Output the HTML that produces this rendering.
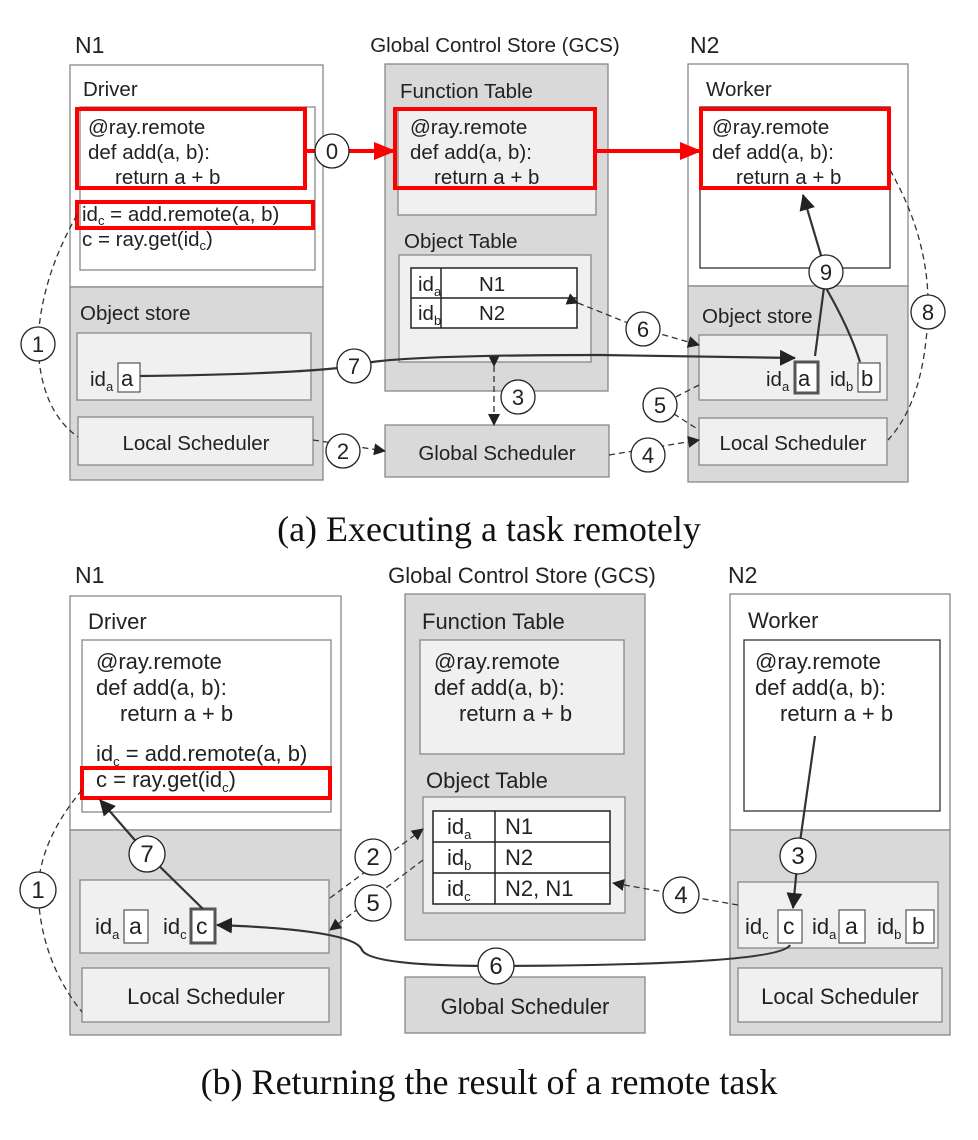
<!DOCTYPE html>
<html><head><meta charset="utf-8"><style>
html,body{margin:0;padding:0;background:#fff}
svg{display:block}
text{font-family:"Liberation Sans",sans-serif;fill:#222}
.c{font-size:20.5px}
.t{font-size:20.5px}
.n{font-size:20.5px;text-anchor:middle}
.b .c,.b .t{font-size:22px}
.b .n{font-size:22px}
.cap{font-family:"Liberation Serif",serif;font-size:36px;text-anchor:middle;fill:#111}
.sub{font-size:13px}
.num{font-size:22px;text-anchor:middle}
</style></head><body>
<svg width="978" height="1140" viewBox="0 0 978 1140" xmlns="http://www.w3.org/2000/svg">
<defs>
<marker id="ah" markerWidth="12" markerHeight="12" refX="11" refY="6" orient="auto" markerUnits="userSpaceOnUse"><path d="M0,0 L12,6 L0,12z" fill="#222"/></marker>
<marker id="ahb" markerWidth="16" markerHeight="16" refX="15" refY="8" orient="auto" markerUnits="userSpaceOnUse"><path d="M0,0 L16,8 L0,16z" fill="#222"/></marker>
<marker id="ahr" markerWidth="22" markerHeight="22" refX="20" refY="11" orient="auto" markerUnits="userSpaceOnUse"><path d="M0,2 L22,11 L0,20z" fill="#f00"/></marker>
</defs>
<g stroke="#888" stroke-width="1.3">
<rect x="70" y="65" width="253" height="222" fill="#fff"/>
<rect x="70" y="287" width="253" height="193" fill="#d9d9d9"/>
<rect x="80" y="107" width="235" height="163" fill="#fff"/>
<rect x="77" y="333" width="234" height="67" fill="#f0f0f0"/>
<rect x="78" y="417" width="235" height="48" fill="#f0f0f0"/>
<rect x="385" y="64" width="223" height="327" fill="#d9d9d9"/>
<rect x="398" y="108" width="198" height="107" fill="#f0f0f0"/>
<rect x="399" y="255" width="192" height="107" fill="#f0f0f0"/>
<rect x="385" y="425" width="224" height="52" fill="#d9d9d9"/>
<rect x="688" y="64" width="220" height="222" fill="#fff"/>
<rect x="688" y="286" width="220" height="196" fill="#d9d9d9"/>
<rect x="700" y="107" width="190" height="161" fill="#fff" stroke="#333"/>
<rect x="699" y="335" width="188" height="65" fill="#f0f0f0"/>
<rect x="699" y="418" width="188" height="47" fill="#f0f0f0"/>
<rect x="70" y="596" width="271" height="234" fill="#fff"/>
<rect x="70" y="830" width="271" height="205" fill="#d9d9d9"/>
<rect x="82" y="640" width="249" height="172" fill="#fff"/>
<rect x="80" y="880" width="249" height="73" fill="#f0f0f0"/>
<rect x="82" y="968" width="247" height="54" fill="#f0f0f0"/>
<rect x="405" y="594" width="240" height="346" fill="#d9d9d9"/>
<rect x="420" y="640" width="204" height="114" fill="#f0f0f0"/>
<rect x="423" y="797" width="202" height="116" fill="#f0f0f0"/>
<rect x="405" y="977" width="240" height="56" fill="#d9d9d9"/>
<rect x="730" y="594" width="220" height="236" fill="#fff"/>
<rect x="730" y="830" width="220" height="205" fill="#d9d9d9"/>
<rect x="744" y="640" width="196" height="171" fill="#fff" stroke="#333"/>
<rect x="738" y="882" width="200" height="66" fill="#f0f0f0"/>
<rect x="738" y="968" width="204" height="54" fill="#f0f0f0"/>
</g>
<g stroke="#222" stroke-width="1.5" fill="#fff">
<rect x="411" y="268" width="166" height="60"/>
<line x1="441" y1="268" x2="441" y2="328"/><line x1="411" y1="298" x2="577" y2="298"/>
<rect x="433" y="811" width="177" height="93"/>
<line x1="495" y1="811" x2="495" y2="904"/><line x1="433" y1="842" x2="610" y2="842"/><line x1="433" y1="873" x2="610" y2="873"/>
</g>
<g fill="#fff" stroke="#555" stroke-width="1.2">
<rect x="118" y="363" width="22" height="29"/>
<rect x="858" y="363" width="22" height="29"/>
<rect x="124" y="910" width="24" height="33"/>
<rect x="778" y="910" width="24" height="33"/>
<rect x="839" y="910" width="26" height="33"/>
<rect x="906" y="910" width="28" height="33"/>
</g>
<rect x="795" y="362" width="23" height="31" fill="#fff" stroke="#555" stroke-width="3"/>
<rect x="191" y="909" width="24" height="34" fill="#fff" stroke="#555" stroke-width="3"/>

<g>
<text x="75" y="53" style="font-size:23px">N1</text>
<text x="495" y="52" class="n">Global Control Store (GCS)</text>
<text x="690" y="53" style="font-size:23px">N2</text>
<text x="83" y="96" class="t">Driver</text>
<text x="88" y="134" class="c">@ray.remote</text>
<text x="88" y="159" class="c">def add(a, b):</text>
<text x="115" y="184" class="c">return a + b</text>
<text x="82" y="221" class="c">id<tspan class="sub" dy="4">c</tspan><tspan dy="-4"> = add.remote(a, b)</tspan></text>
<text x="82" y="246" class="c">c = ray.get(id<tspan class="sub" dy="4">c</tspan><tspan dy="-4">)</tspan></text>
<text x="80" y="320" class="t">Object store</text>
<text x="90" y="386" class="c">id<tspan class="sub" dy="5">a</tspan></text>
<text x="121" y="386" class="c" style="font-size:22px">a</text>
<text x="196" y="450" class="n">Local Scheduler</text>
<text x="400" y="98" class="t">Function Table</text>
<text x="410" y="134" class="c">@ray.remote</text>
<text x="410" y="159" class="c">def add(a, b):</text>
<text x="434" y="184" class="c">return a + b</text>
<text x="404" y="248" class="t">Object Table</text>
<text x="418" y="291" class="c">id<tspan class="sub" dy="5">a</tspan></text>
<text x="479" y="291" class="c">N1</text>
<text x="418" y="320" class="c">id<tspan class="sub" dy="5">b</tspan></text>
<text x="479" y="320" class="c">N2</text>
<text x="497" y="460" class="n">Global Scheduler</text>
<text x="706" y="96" class="t">Worker</text>
<text x="712" y="134" class="c">@ray.remote</text>
<text x="712" y="159" class="c">def add(a, b):</text>
<text x="736" y="184" class="c">return a + b</text>
<text x="702" y="323" class="t">Object store</text>
<text x="766" y="386" class="c">id<tspan class="sub" dy="5">a</tspan></text>
<text x="798" y="386" class="c" style="font-size:22px">a</text>
<text x="830" y="386" class="c">id<tspan class="sub" dy="5">b</tspan></text>
<text x="861" y="386" class="c" style="font-size:22px">b</text>
<text x="793" y="450" class="n">Local Scheduler</text>
<text x="489" y="541" class="cap">(a) Executing a task remotely</text>
</g>

<g class="b">
<text x="75" y="583" style="font-size:23px">N1</text>
<text x="522" y="583" class="n">Global Control Store (GCS)</text>
<text x="728" y="583" style="font-size:23px">N2</text>
<text x="88" y="629" class="t">Driver</text>
<text x="96" y="669" class="c">@ray.remote</text>
<text x="96" y="695" class="c">def add(a, b):</text>
<text x="120" y="721" class="c">return a + b</text>
<text x="96" y="761" class="c">id<tspan class="sub" dy="5">c</tspan><tspan dy="-5"> = add.remote(a, b)</tspan></text>
<text x="96" y="787" class="c">c = ray.get(id<tspan class="sub" dy="5">c</tspan><tspan dy="-5">)</tspan></text>
<text x="95" y="934" class="c">id<tspan class="sub" dy="5">a</tspan></text>
<text x="129" y="934" class="c" style="font-size:23px">a</text>
<text x="163" y="934" class="c">id<tspan class="sub" dy="5">c</tspan></text>
<text x="196" y="934" class="c" style="font-size:23px">c</text>
<text x="206" y="1004" class="n">Local Scheduler</text>
<text x="422" y="629" class="t">Function Table</text>
<text x="434" y="669" class="c">@ray.remote</text>
<text x="434" y="695" class="c">def add(a, b):</text>
<text x="459" y="721" class="c">return a + b</text>
<text x="426" y="788" class="t">Object Table</text>
<text x="447" y="834" class="c">id<tspan class="sub" dy="5">a</tspan></text>
<text x="505" y="834" class="c">N1</text>
<text x="447" y="865" class="c">id<tspan class="sub" dy="5">b</tspan></text>
<text x="505" y="865" class="c">N2</text>
<text x="447" y="896" class="c">id<tspan class="sub" dy="5">c</tspan></text>
<text x="505" y="896" class="c">N2, N1</text>
<text x="525" y="1014" class="n">Global Scheduler</text>
<text x="748" y="628" class="t">Worker</text>
<text x="755" y="669" class="c">@ray.remote</text>
<text x="755" y="695" class="c">def add(a, b):</text>
<text x="780" y="721" class="c">return a + b</text>
<text x="745" y="934" class="c">id<tspan class="sub" dy="5">c</tspan></text>
<text x="783" y="934" class="c" style="font-size:23px">c</text>
<text x="812" y="934" class="c">id<tspan class="sub" dy="5">a</tspan></text>
<text x="845" y="934" class="c" style="font-size:23px">a</text>
<text x="877" y="934" class="c">id<tspan class="sub" dy="5">b</tspan></text>
<text x="912" y="934" class="c" style="font-size:23px">b</text>
<text x="840" y="1004" class="n">Local Scheduler</text>
<text x="489" y="1094" class="cap">(b) Returning the result of a remote task</text>
</g>

<g fill="none" stroke="#f00" stroke-width="4">
<rect x="77" y="109" width="228" height="79"/>
<rect x="77" y="202" width="236" height="26"/>
<rect x="395" y="109" width="200" height="79"/>
<rect x="701" y="109" width="188" height="79"/>
<rect x="82" y="768" width="248" height="30"/>
<line x1="305" y1="151" x2="394" y2="151" marker-end="url(#ahr)"/>
<line x1="596" y1="151" x2="700" y2="151" marker-end="url(#ahr)"/>
</g>

<g fill="none" stroke="#333" stroke-width="1.3" stroke-dasharray="6,4">
<path d="M77,215 Q40,280 38,344 Q40,410 78,437"/>
<path d="M313,440 L385,451" marker-end="url(#ah)"/>
<path d="M494,366 L494,425" marker-start="url(#ah)" marker-end="url(#ah)"/>
<path d="M609,455 L699,440" marker-end="url(#ah)"/>
<path d="M699,385 L660,405 L699,430"/>
<path d="M578,303 L643,329 L699,345" marker-start="url(#ah)" marker-end="url(#ah)"/>
<path d="M890,170 Q930,240 928,312 Q925,400 888,440"/>
<path d="M82,790 Q40,840 38,890 Q40,960 82,1012"/>
<path d="M330,898 L423,829" marker-end="url(#ah)"/>
<path d="M423,860 L330,930" marker-end="url(#ah)"/>
<path d="M738,905 L613,883" marker-end="url(#ah)"/>
</g>
<g fill="none" stroke="#333" stroke-width="2.2">
<path d="M140,376 Q300,374 354,366 Q380,355 600,355 L795,358" marker-end="url(#ahb)"/>
<path d="M815,356 L826,272 L803,195" marker-end="url(#ahb)"/>
<path d="M860,362 Q850,330 826,288"/>
<path d="M203,909 L147,854 L100,800" marker-end="url(#ahb)"/>
<path d="M815,736 L798,856 L793,908" marker-end="url(#ahb)"/>
<path d="M790,945 Q780,965 496,966 Q370,966 362,950 Q355,930 217,925" marker-end="url(#ahb)"/>
</g>

<g fill="#fff" stroke="#222" stroke-width="1.3">
<circle cx="332" cy="151" r="17"/><circle cx="38" cy="344" r="17"/>
<circle cx="343" cy="451" r="17"/><circle cx="518" cy="397" r="17"/>
<circle cx="648" cy="455" r="17"/><circle cx="660" cy="405" r="17"/>
<circle cx="643" cy="329" r="17"/><circle cx="354" cy="366" r="17"/>
<circle cx="928" cy="312" r="17"/><circle cx="826" cy="272" r="17"/>
<circle cx="147" cy="854" r="18"/><circle cx="373" cy="857" r="18"/>
<circle cx="373" cy="903" r="18"/><circle cx="681" cy="895" r="18"/>
<circle cx="798" cy="856" r="18"/><circle cx="496" cy="966" r="18"/>
<circle cx="38" cy="890" r="18"/>
</g>
<g>
<text x="332" y="159" class="num">0</text>
<text x="38" y="352" class="num">1</text>
<text x="343" y="459" class="num">2</text>
<text x="518" y="405" class="num">3</text>
<text x="648" y="463" class="num">4</text>
<text x="660" y="413" class="num">5</text>
<text x="643" y="337" class="num">6</text>
<text x="354" y="374" class="num">7</text>
<text x="928" y="320" class="num">8</text>
<text x="826" y="280" class="num">9</text>
<text x="147" y="862" class="num" style="font-size:24px">7</text>
<text x="373" y="865" class="num" style="font-size:24px">2</text>
<text x="373" y="911" class="num" style="font-size:24px">5</text>
<text x="681" y="903" class="num" style="font-size:24px">4</text>
<text x="798" y="864" class="num" style="font-size:24px">3</text>
<text x="496" y="974" class="num" style="font-size:24px">6</text>
<text x="38" y="898" class="num" style="font-size:24px">1</text>
</g>
</svg>
</body></html>
